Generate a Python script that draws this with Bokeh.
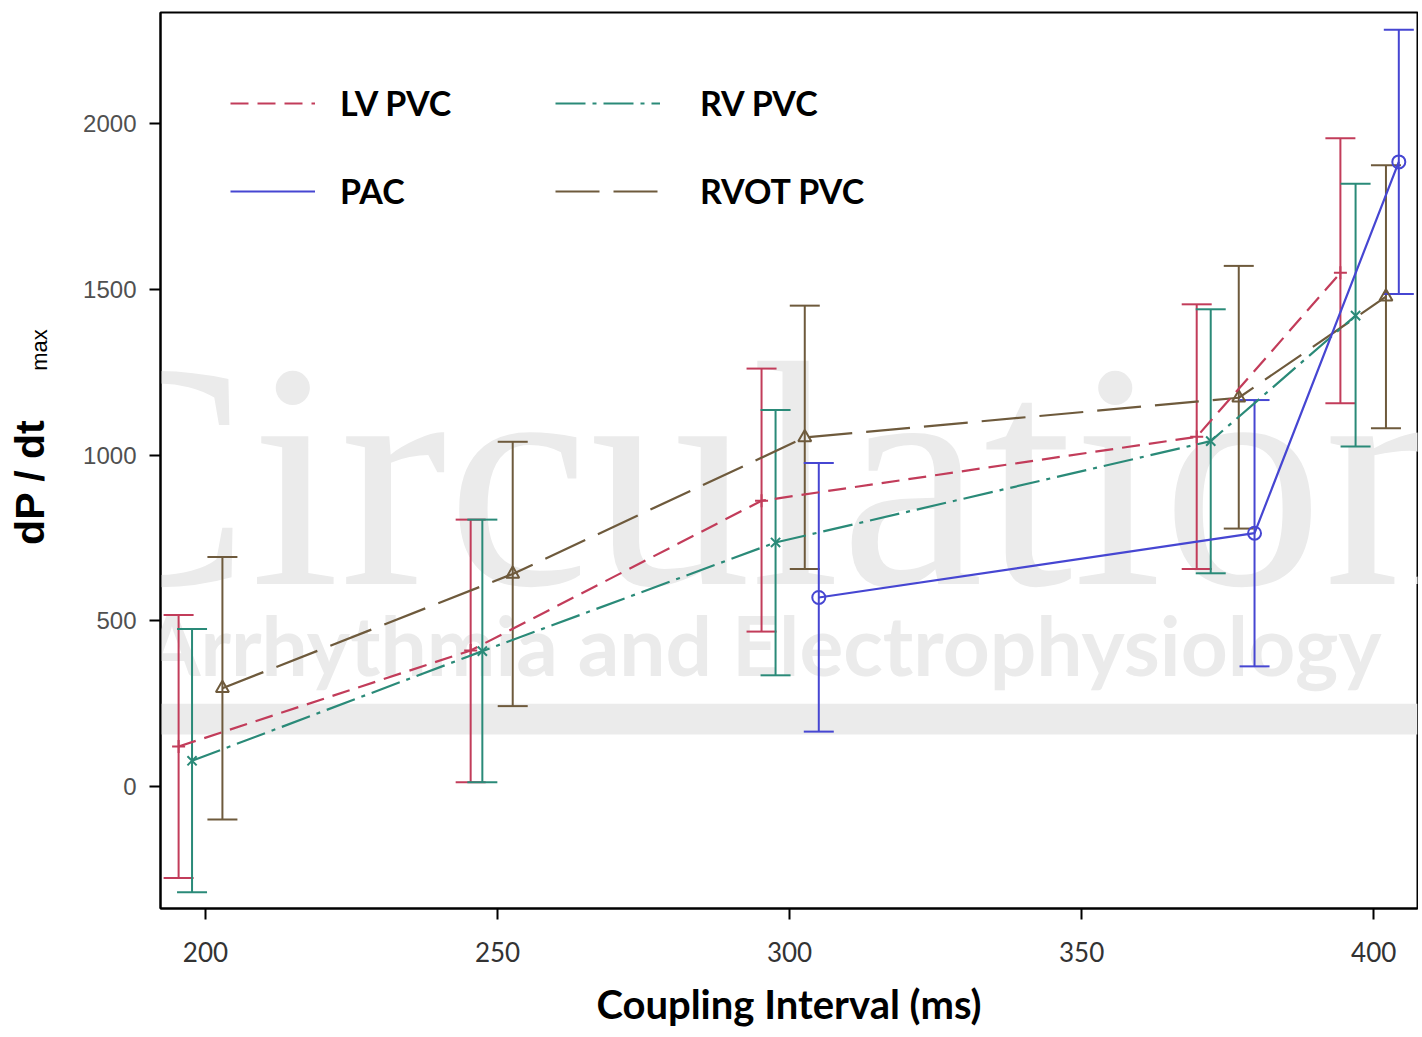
import math
from bokeh.plotting import figure
from bokeh.layouts import row
from bokeh.models import (ColumnDataSource, Whisker, TeeHead, Legend, LegendItem,
                          Label, BoxAnnotation, FixedTicker)
from bokeh.embed import file_html
from bokeh.resources import INLINE

# ---------------- data ----------------
lv_x = [195.4, 245.4, 295.2, 369.7, 394.3]
lv_y = [120, 410, 862, 1055, 1550]
lv_lo = [-277, 12, 467, 656, 1156]
lv_hi = [517, 805, 1261, 1455, 1956]

rv_x = [197.7, 247.4, 297.6, 372.1, 396.9]
rv_y = [77, 408, 736, 1042, 1421]
rv_lo = [-320, 12, 335, 643, 1026]
rv_hi = [475, 805, 1136, 1440, 1819]

rvot_x = [202.9, 252.6, 302.6, 376.9, 402.1]
rvot_y = [296, 641, 1053, 1173, 1478]
rvot_lo = [-100, 242, 656, 778, 1081]
rvot_hi = [692, 1040, 1451, 1571, 1875]

pac_x = [305.0, 379.6, 404.3]
pac_y = [570, 764, 1885]
pac_lo = [165, 362, 1486]
pac_hi = [976, 1166, 2284]

x_ticks = [200, 250, 300, 350, 400]
y_ticks = [0, 500, 1000, 1500, 2000]

x_label = "Coupling Interval (ms)"
y_label_main = "dP / dt"
y_label_sub = "max"

H = 1030
LAB_W = 70
X0, X1 = 192.3, 407.5
Y0, Y1 = -369, 2336

# ---------------- y-axis title panel ----------------
lab = figure(width=LAB_W, height=H, x_range=(0, LAB_W), y_range=(0, H),
             output_backend="svg", toolbar_location=None,
             min_border=0, min_border_left=0, min_border_right=0,
             min_border_top=0, min_border_bottom=0)
lab.axis.visible = False
lab.grid.visible = False
lab.outline_line_color = None
lab.add_layout(Label(x=29, y=H - 540, text=y_label_main, angle=math.pi / 2,
                     text_align="center", text_baseline="alphabetic",
                     text_font="Liberation Sans", text_font_style="bold",
                     text_font_size="41px", text_color="black"))
lab.add_layout(Label(x=39, y=H - 388, text=y_label_sub, angle=math.pi / 2,
                     text_align="center", text_baseline="alphabetic",
                     text_font="Liberation Sans", text_font_size="22px",
                     text_color="black"))

# ---------------- main figure ----------------
p = figure(width=1418 - LAB_W, height=H, x_range=(X0, X1), y_range=(Y0, Y1),
           output_backend="svg", toolbar_location=None,
           min_border_left=160 - LAB_W, min_border_right=1, min_border_top=12,
           min_border_bottom=H - 913)
p.background_fill_color = "white"
p.border_fill_color = "white"
p.xgrid.visible = False
p.ygrid.visible = False
p.outline_line_color = "black"
p.outline_line_width = 2

# journal watermark (behind the data)
wm = "#ebebeb"
p.add_layout(BoxAnnotation(bottom=156, top=249, fill_color=wm, fill_alpha=1,
                           line_color=None, level="underlay"))
p.add_layout(Label(x=170.9, y=938, text="Circulation", text_font="Liberation Serif",
                   text_font_size="322px", text_baseline="alphabetic",
                   text_color=wm, level="underlay"))
p.add_layout(Label(x=189.4, y=431, text="Arrhythmia and Electrophysiology",
                   text_font="Lato", text_font_style="bold", text_baseline="alphabetic",
                   text_font_size="82px", text_color=wm, level="underlay"))

styles = {
    "LV PVC": dict(color="#c23c5a", dash="18 9"),
    "RV PVC": dict(color="#2a8a78", dash="30 7 4 7"),
    "PAC": dict(color="#4646d2", dash="solid"),
    "RVOT PVC": dict(color="#6e5a3c", dash="44 14"),
}
series = {
    "LV PVC": (lv_x, lv_y, lv_lo, lv_hi, "cross"),
    "RV PVC": (rv_x, rv_y, rv_lo, rv_hi, "x"),
    "PAC": (pac_x, pac_y, pac_lo, pac_hi, "circle"),
    "RVOT PVC": (rvot_x, rvot_y, rvot_lo, rvot_hi, "triangle"),
}

line_r = {}
for name in ["RVOT PVC", "LV PVC", "RV PVC", "PAC"]:
    xs, ys, lo, hi, mk = series[name]
    st = styles[name]
    src = ColumnDataSource(dict(x=xs, y=ys, lower=lo, upper=hi))
    p.add_layout(Whisker(base="x", lower="lower", upper="upper", source=src,
                         line_color=st["color"], line_width=2,
                         lower_head=TeeHead(size=30, line_color=st["color"], line_width=2),
                         upper_head=TeeHead(size=30, line_color=st["color"], line_width=2)))
    line_r[name] = p.line("x", "y", source=src, line_color=st["color"], line_width=2.2,
                          line_dash=st["dash"])
    p.scatter("x", "y", source=src, marker=mk, size=13, line_color=st["color"],
              fill_color=None, line_width=2)

# ---------------- axes ----------------
p.xaxis.ticker = FixedTicker(ticks=x_ticks)
p.yaxis.ticker = FixedTicker(ticks=y_ticks)
for ax in (p.xaxis, p.yaxis):
    ax.axis_line_color = "black"
    ax.axis_line_width = 2
    ax.major_tick_line_color = "black"
    ax.major_tick_line_width = 2
    ax.major_tick_out = 11
    ax.major_tick_in = 0
    ax.minor_tick_line_color = None

p.xaxis.major_label_text_font = "Lato"
p.xaxis.major_label_text_font_size = "26px"
p.xaxis.major_label_text_color = "#333333"
p.xaxis.major_label_standoff = 22
p.xaxis.axis_label = x_label
p.xaxis.axis_label_text_font = "Lato"
p.xaxis.axis_label_text_font_style = "bold"
p.xaxis.axis_label_text_font_size = "40px"
p.xaxis.axis_label_text_color = "black"
p.xaxis.axis_label_standoff = 15

p.yaxis.major_label_text_font = "Liberation Sans"
p.yaxis.major_label_text_font_size = "24px"
p.yaxis.major_label_text_color = "#505050"
p.yaxis.major_label_standoff = 13
p.yaxis.axis_label = None

# ---------------- legends ----------------
def make_legend(items, loc, gw, standoff):
    lg = Legend(items=[LegendItem(label=n, renderers=[line_r[n]]) for n in items],
                location=loc, orientation="vertical", glyph_width=gw, glyph_height=20,
                label_standoff=standoff, spacing=47, padding=0, margin=0,
                label_text_font="Lato", label_text_font_style="bold",
                label_text_font_size="34px", label_text_color="black",
                border_line_color=None, background_fill_alpha=0)
    p.add_layout(lg)

make_legend(["LV PVC", "PAC"], (70, 697), 85, 25)
make_legend(["RV PVC", "RVOT PVC"], (395, 697), 105, 40)

open("out.html", "w").write(file_html(row(lab, p), INLINE))
